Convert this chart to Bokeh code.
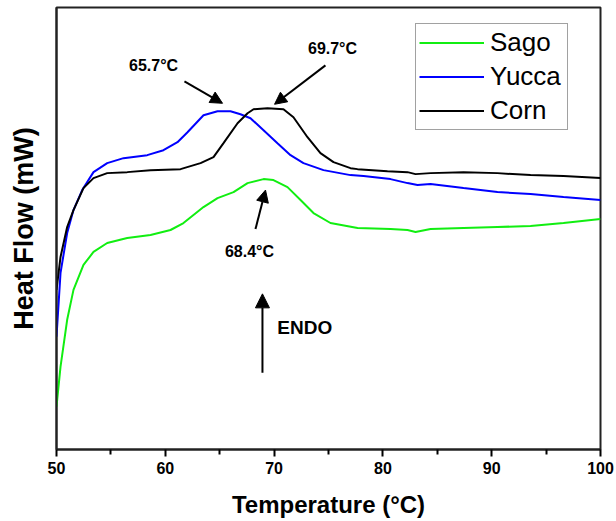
from bokeh.plotting import figure
from bokeh.models import (Legend, LegendItem, Arrow, NormalHead, FixedTicker, Label)
from bokeh.embed import file_html
from bokeh.resources import INLINE

# ---- data ----
yucca_t = [50.0, 50.37, 50.98, 51.56, 52.36, 53.40, 54.66, 56.16, 58.34, 59.83, 61.12,
           62.04, 63.51, 64.80, 65.99, 66.91, 67.83, 69.03, 70.31, 71.51, 72.70, 74.54,
           77.02, 78.22, 80.70, 82.26, 83.18, 84.38, 87.41, 90.53, 93.57, 96.60, 100.0]
yucca_hf = [11.3, 17.7, 21.7, 24.0, 26.0, 27.8, 28.7, 29.2, 29.5, 30.0, 30.8,
            31.8, 33.5, 33.9, 33.9, 33.6, 33.2, 32.0, 30.7, 29.5, 28.7, 28.0,
            27.5, 27.4, 27.1, 26.7, 26.5, 26.6, 26.2, 25.8, 25.6, 25.3, 25.0]

corn_t = [50.0, 50.37, 50.98, 51.56, 52.48, 53.40, 54.66, 56.50, 58.64, 61.40, 63.24,
          64.43, 65.35, 66.64, 67.56, 68.11, 69.39, 70.86, 71.78, 73.07, 74.26, 75.46,
          77.02, 77.67, 80.42, 82.26, 83.00, 84.38, 87.41, 90.53, 93.57, 96.60, 100.0]
corn_hf = [16.0, 19.3, 22.3, 24.0, 26.2, 27.2, 27.7, 27.8, 28.0, 28.1, 28.7,
           29.3, 30.7, 32.7, 33.7, 34.1, 34.2, 34.1, 33.3, 31.3, 29.7, 28.8,
           28.2, 28.1, 27.9, 27.8, 27.6, 27.7, 27.8, 27.7, 27.5, 27.4, 27.2]

sago_t = [50.0, 50.37, 50.98, 51.56, 52.48, 53.40, 54.66, 56.50, 58.64, 60.48, 61.67,
          63.51, 64.80, 66.27, 67.56, 69.03, 69.94, 71.23, 72.43, 73.62, 75.18, 77.67,
          80.70, 82.26, 83.00, 84.38, 87.41, 90.53, 93.57, 96.60, 100.0]
sago_hf = [4.3, 8.3, 13.0, 16.0, 18.5, 19.8, 20.7, 21.2, 21.5, 22.0, 22.7,
           24.3, 25.2, 25.8, 26.7, 27.1, 27.0, 26.3, 25.0, 23.7, 22.7, 22.2,
           22.1, 22.0, 21.8, 22.1, 22.2, 22.3, 22.4, 22.7, 23.1]

series_names = ["Sago", "Yucca", "Corn"]
x_ticks = [50, 60, 70, 80, 90, 100]
peak_labels = ["65.7°C", "69.7°C", "68.4°C"]

FONT = "Liberation Sans"

p = figure(width=616, height=521, x_range=(50, 100), y_range=(0, 44.3),
           output_backend="svg", toolbar_location=None,
           min_border_left=56, min_border_right=16, min_border_top=7, min_border_bottom=72)

p.xgrid.visible = False
p.ygrid.visible = False
p.outline_line_color = "#222222"
p.outline_line_width = 2
p.background_fill_color = "white"
p.border_fill_color = "white"

# x axis
xa = p.xaxis[0]
xa.ticker = FixedTicker(ticks=x_ticks, minor_ticks=[55, 65, 75, 85, 95])
xa.axis_line_width = 2
xa.axis_line_color = "#222222"
xa.major_tick_in = 0
xa.major_tick_out = 7
xa.minor_tick_in = 0
xa.minor_tick_out = 5
xa.major_tick_line_width = 2
xa.minor_tick_line_width = 2
xa.major_label_text_font = FONT
xa.major_label_text_font_style = "bold"
xa.major_label_text_font_size = "16px"
xa.major_label_text_color = "black"
xa.major_label_standoff = 5
xa.axis_label = "Temperature (°C)"
xa.axis_label_text_font = FONT
xa.axis_label_text_font_style = "bold"
xa.axis_label_text_font_size = "24px"
xa.axis_label_text_color = "black"
xa.axis_label_standoff = 14

# y axis
ya = p.yaxis[0]
ya.ticker = FixedTicker(ticks=[])
ya.axis_line_width = 2
ya.axis_line_color = "#222222"
ya.major_tick_line_color = None
ya.minor_tick_line_color = None
ya.major_label_text_font_size = "0px"
ya.axis_label = "Heat Flow (mW)"
ya.axis_label_text_font = FONT
ya.axis_label_text_font_style = "bold"
ya.axis_label_text_font_size = "27px"
ya.axis_label_text_color = "black"
ya.axis_label_standoff = 18

# lines
r_sago = p.line(sago_t, sago_hf, line_color="#11ee11", line_width=2)
r_yucca = p.line(yucca_t, yucca_hf, line_color="#0000ff", line_width=2)
r_corn = p.line(corn_t, corn_hf, line_color="black", line_width=2)

legend = Legend(items=[LegendItem(label=series_names[0], renderers=[r_sago]),
                       LegendItem(label=series_names[1], renderers=[r_yucca]),
                       LegendItem(label=series_names[2], renderers=[r_corn])],
                location=(359, 319))
legend.label_text_font = FONT
legend.label_text_font_size = "26px"
legend.label_text_color = "black"
legend.glyph_width = 65
legend.glyph_height = 29
legend.label_height = 29
legend.label_width = 74
legend.label_standoff = 6
legend.padding = 3
legend.spacing = 3
legend.margin = 0
legend.border_line_color = "#444444"
legend.border_line_width = 1.5
legend.background_fill_alpha = 1
p.add_layout(legend)

# annotations
def add_text(x, y, txt, size="16px", align="center"):
    p.add_layout(Label(x=x, y=y, text=txt, text_font=FONT, text_font_style="bold",
                       text_font_size=size, text_align=align, text_baseline="middle",
                       text_color="black"))

add_text(58.92, 38.5, peak_labels[0])
add_text(75.37, 40.2, peak_labels[1])
add_text(67.74, 19.8, peak_labels[2])
add_text(70.3, 12.2, "ENDO", size="19px", align="left")

def add_arrow(x0, y0, x1, y1, size=12):
    p.add_layout(Arrow(end=NormalHead(size=size, fill_color="black", line_color="black"),
                       x_start=x0, y_start=y0, x_end=x1, y_end=y1,
                       line_width=2, line_color="black"))

add_arrow(61.76, 36.9, 65.26, 34.7)
add_arrow(74.72, 38.5, 70.04, 34.6)
add_arrow(68.29, 22.1, 69.21, 26.0)
add_arrow(68.93, 7.7, 68.93, 15.6, size=14)

open("out.html", "w").write(file_html(p, INLINE))
